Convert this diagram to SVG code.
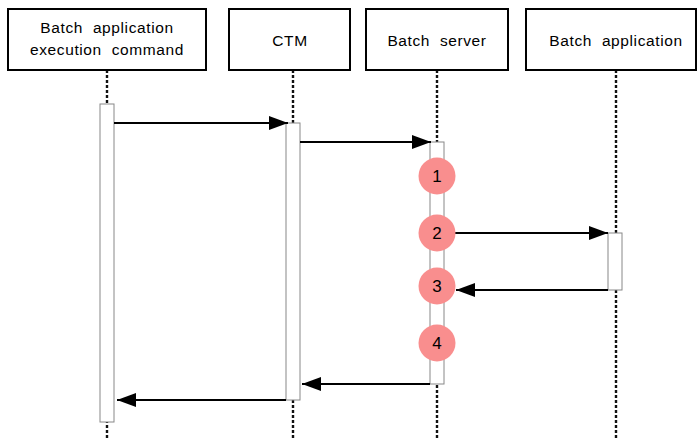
<svg xmlns="http://www.w3.org/2000/svg" width="697" height="440" viewBox="0 0 697 440">
<style>
.hdr{fill:#fff;stroke:#000;stroke-width:2}
.life{stroke:#111;stroke-width:2.4;stroke-dasharray:3 2;fill:none}
.act{fill:#fff;stroke:#888;stroke-width:1}
.msg{stroke:#000;stroke-width:2;fill:none}
.t{font-family:"Liberation Sans",Arial,sans-serif;font-size:15.5px;fill:#000;text-anchor:middle;word-spacing:5px;letter-spacing:0.6px}
.c{fill:#f98e8e}
.ct{font-family:"Liberation Sans",Arial,sans-serif;font-size:17px;fill:#000;text-anchor:middle}
</style>
<defs>
<marker id="ah" markerWidth="19" markerHeight="14" refX="19" refY="7" orient="auto" markerUnits="userSpaceOnUse">
<path d="M0,0 L19,7 L0,14 Z" fill="#000"/>
</marker>
</defs>
<g id="lifelines">
<line class="life" x1="107" y1="70" x2="107" y2="440"/>
<line class="life" x1="293" y1="70" x2="293" y2="440"/>
<line class="life" x1="437" y1="70" x2="437" y2="440"/>
<line class="life" x1="616" y1="70" x2="616" y2="440"/>
</g>
<g id="node-cmd">
<rect class="hdr" x="8" y="9" width="198" height="61"/>
<text class="t" x="107" y="33">Batch application</text>
<text class="t" x="107" y="55">execution command</text>
<rect class="act" x="100" y="104" width="14" height="318"/>
</g>
<g id="node-ctm">
<rect class="hdr" x="229" y="9" width="121" height="61"/>
<text class="t" x="290" y="46">CTM</text>
<rect class="act" x="286" y="123" width="14" height="277"/>
</g>
<g id="node-server">
<rect class="hdr" x="366" y="9" width="142" height="61"/>
<text class="t" x="437" y="46">Batch server</text>
<rect class="act" x="430" y="142" width="14" height="242"/>
</g>
<g id="node-app">
<rect class="hdr" x="526" y="9" width="170" height="61"/>
<text class="t" x="616" y="46">Batch application</text>
<rect class="act" x="608" y="233" width="14" height="57"/>
</g>
<g id="connectors">
<line class="msg" x1="114" y1="123" x2="288" y2="123" marker-end="url(#ah)"/>
<line class="msg" x1="300" y1="142" x2="431" y2="142" marker-end="url(#ah)"/>
<line class="msg" x1="455" y1="233" x2="608" y2="233" marker-end="url(#ah)"/>
<line class="msg" x1="608" y1="290" x2="456" y2="290" marker-end="url(#ah)"/>
<line class="msg" x1="430" y1="384" x2="302" y2="384" marker-end="url(#ah)"/>
<line class="msg" x1="286" y1="400" x2="117" y2="400" marker-end="url(#ah)"/>
</g>
<g id="step1"><circle class="c" cx="437" cy="176" r="18.5"/><text class="ct" x="437" y="182">1</text></g>
<g id="step2"><circle class="c" cx="437" cy="233" r="18.5"/><text class="ct" x="437" y="239">2</text></g>
<g id="step3"><circle class="c" cx="437" cy="286" r="18.5"/><text class="ct" x="437" y="292">3</text></g>
<g id="step4"><circle class="c" cx="437" cy="343" r="18.5"/><text class="ct" x="437" y="349">4</text></g>
</svg>
